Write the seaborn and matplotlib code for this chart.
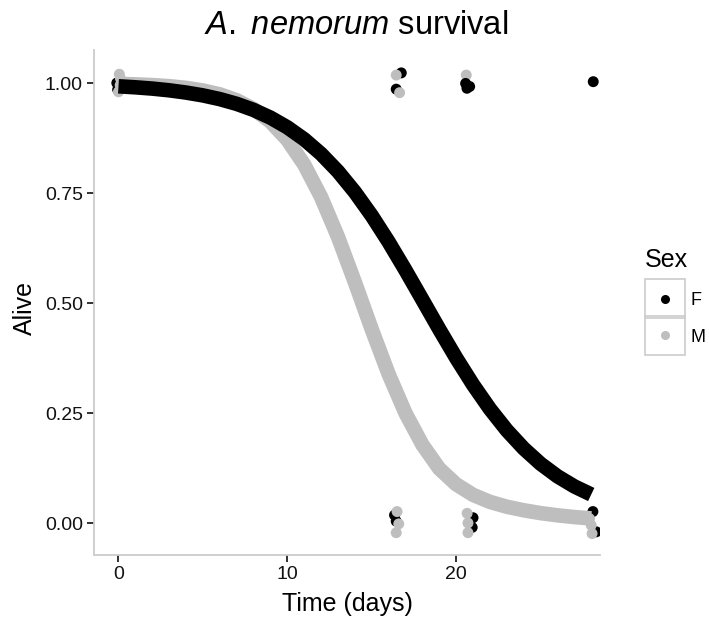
import matplotlib
matplotlib.use("Agg")
import matplotlib.pyplot as plt
from matplotlib.patches import Rectangle
from matplotlib.lines import Line2D
import seaborn as sns
import pandas as pd

# ---------------- data ----------------
sex_levels = ["F", "M"]
sex_colors = ["#000000", "#BEBEBE"]

curve_days = list(range(0, 29))
curve_F = [0.9925, 0.9902, 0.9873, 0.9834, 0.9783, 0.9718, 0.9634, 0.9526, 0.9388,
           0.9213, 0.8993, 0.8721, 0.8389, 0.7990, 0.7521, 0.6985, 0.6388, 0.5744,
           0.5075, 0.4403, 0.3752, 0.3143, 0.2592, 0.2108, 0.1694, 0.1347, 0.1062,
           0.0832, 0.0648]
curve_M = [0.9980, 0.9969, 0.9953, 0.9928, 0.9889, 0.9830, 0.9742, 0.9608, 0.9410,
           0.9121, 0.8710, 0.8146, 0.7408, 0.6502, 0.5474, 0.4403, 0.3385, 0.2497,
           0.1780, 0.1235, 0.0880, 0.0640, 0.0480, 0.0370, 0.0290, 0.0225, 0.0175,
           0.0135, 0.0105]

pt_time = [-0.10, -0.05, 0.05, 0.10, 0.00, 0.12,
           16.75, 16.45, 16.45, 16.65,
           20.60, 20.56, 20.80, 20.64,
           28.12,
           16.35, 16.45, 16.50, 16.60, 16.45,
           21.00, 20.95, 20.65, 20.70, 20.70,
           28.10, 28.30, 27.90, 28.00, 28.05]
pt_alive = [1.000, 0.985, 1.020, 0.995, 0.980, 1.010,
            1.023, 1.018, 0.986, 0.978,
            1.018, 0.999, 0.992, 0.988,
            1.003,
            0.018, 0.004, 0.026, -0.002, -0.022,
            0.012, -0.010, 0.022, 0.000, -0.022,
            0.026, -0.020, 0.010, -0.005, -0.024]
pt_sex = ["F", "F", "M", "M", "M", "M",
          "F", "M", "F", "M",
          "M", "F", "F", "F",
          "F",
          "F", "F", "M", "M", "M",
          "F", "F", "M", "M", "M",
          "F", "F", "M", "M", "M"]

x_ticks = [0, 10, 20]
y_ticks = [0.0, 0.25, 0.50, 0.75, 1.0]
y_tick_labels = ["0.00", "0.25", "0.50", "0.75", "1.00"]

# ---------------- style ----------------
sns.set_theme(style="white")
plt.rcParams["font.family"] = ["Liberation Sans", "DejaVu Sans"]
plt.rcParams["mathtext.fontset"] = "custom"
plt.rcParams["mathtext.rm"] = "Liberation Sans"
plt.rcParams["mathtext.it"] = "Liberation Sans:italic"
plt.rcParams["text.color"] = "black"

palette = dict(zip(sex_levels, sex_colors))

curve_df = pd.DataFrame({
    "Time": curve_days * 2,
    "Alive": curve_F + curve_M,
    "Sex": ["F"] * len(curve_days) + ["M"] * len(curve_days),
})
pts_df = pd.DataFrame({"Time": pt_time, "Alive": pt_alive, "Sex": pt_sex})

W, H = 709, 618
fig = plt.figure(figsize=(W / 100, H / 100), dpi=100)
fig.patch.set_facecolor("white")
ax_l, ax_r, ax_t, ax_b = 94, 600, 50, 555
ax = fig.add_axes([ax_l / W, 1 - ax_b / H, (ax_r - ax_l) / W, (ax_b - ax_t) / H])

sns.scatterplot(data=pts_df, x="Time", y="Alive", hue="Sex", palette=palette,
                s=62, linewidth=0, legend=False, ax=ax, zorder=2)
sns.lineplot(data=curve_df, x="Time", y="Alive", hue="Sex", hue_order=["M", "F"],
             palette=palette, linewidth=10.5, legend=False, ax=ax,
             estimator=None, solid_capstyle="butt", zorder=3)

ax.set_xlim(-1.45, 28.52)
ax.set_ylim(-0.0727, 1.075)
ax.set_xticks(x_ticks)
ax.set_xticklabels([str(t) for t in x_ticks])
ax.set_yticks(y_ticks)
ax.set_yticklabels(y_tick_labels)

for s in ["top", "right"]:
    ax.spines[s].set_visible(False)
for s in ["left", "bottom"]:
    ax.spines[s].set_color("#cccccc")
    ax.spines[s].set_linewidth(1.3)
ax.tick_params(axis="both", which="major", bottom=True, left=True, direction="out",
               length=5, width=1.3, color="#222222",
               labelsize=14, labelcolor="#111111", pad=3)
ax.grid(False)

ax.set_xlabel("Time (days)", fontsize=18, color="black")
ax.xaxis.label.set_va("baseline")
ax.xaxis.set_label_coords(0.5, (ax_b - 611.5) / (ax_b - ax_t))
ax.set_ylabel("Alive", fontsize=18, color="black")
ax.yaxis.label.set_va("baseline")
ax.yaxis.set_label_coords((31.5 - ax_l) / (ax_r - ax_l), 0.49)

fig.text(356 / W, 1 - 33.5 / H, r"$\mathit{A.\ nemorum}$ survival",
         ha="center", va="baseline", fontsize=23.5, color="black")

# ---------------- legend ----------------
handles = [Line2D([], [], linestyle="none", marker="o", markersize=6.5,
                  markerfacecolor=c, markeredgewidth=0, color=c)
           for c in sex_colors]
leg = ax.legend(handles, sex_levels, title="Sex", loc="upper left",
                bbox_to_anchor=(645 / W, 1 - 245 / H), bbox_transform=fig.transFigure,
                frameon=False, borderpad=0, borderaxespad=0, fontsize=13,
                title_fontsize=18, handlelength=2.2, handletextpad=0.3,
                labelspacing=1.1, alignment="left")
for t in leg.get_texts():
    t.set_color("black")
leg.get_title().set_color("black")
fig.canvas.draw()
r = fig.canvas.get_renderer()
hb = leg.legend_handles[0].get_window_extent(r)
cx, cy = (hb.x0 + hb.x1) / 2, (hb.y0 + hb.y1) / 2
dx, dy = 665 - cx, (H - 298.5) - cy
leg.set_bbox_to_anchor((645 / W + dx / W, 1 - 245 / H + dy / H), transform=fig.transFigure)
fig.canvas.draw()
for h in leg.legend_handles:
    b = h.get_window_extent(r)
    mx, my = (b.x0 + b.x1) / 2, (b.y0 + b.y1) / 2
    fig.add_artist(Rectangle(((mx - 20) / W, (my - 19.5) / H), 40 / W, 39 / H,
                             transform=fig.transFigure, facecolor="none",
                             edgecolor="#cccccc", linewidth=1.2, zorder=1))

fig.savefig("out.png", dpi=100)
